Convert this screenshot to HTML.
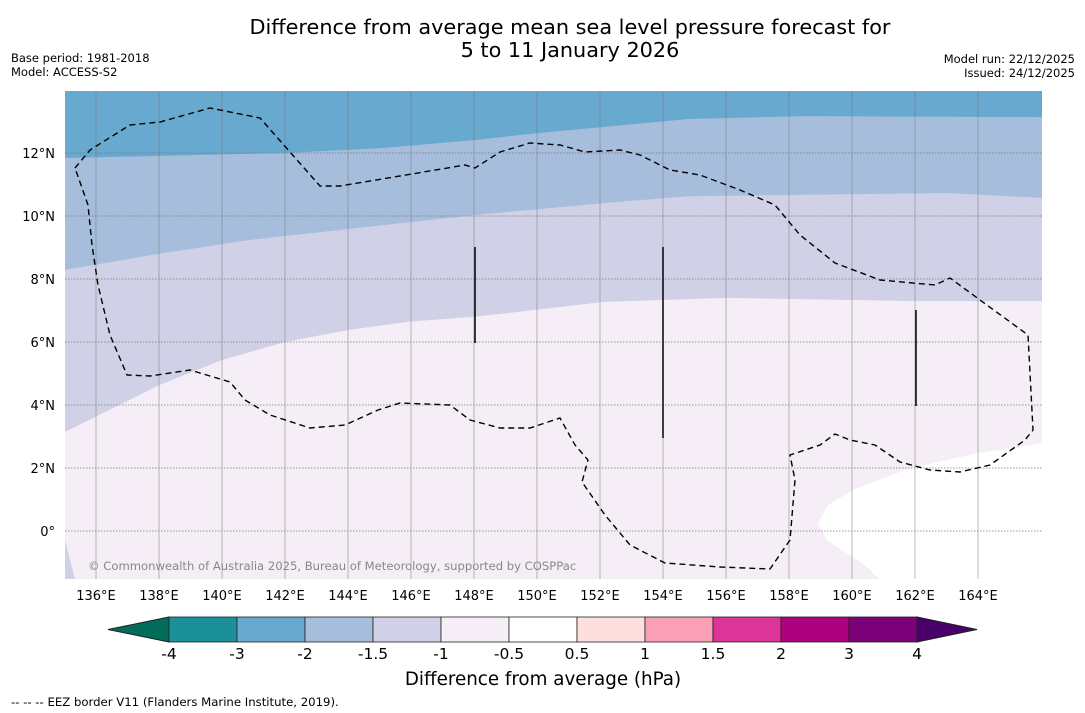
<!DOCTYPE html>
<html><head><meta charset="utf-8"><style>
body{margin:0;background:#fff;width:1085px;height:713px;overflow:hidden;font-family:"DejaVu Sans","Liberation Sans",sans-serif}
svg{display:block}
</style></head><body>
<svg id="chart" width="1085" height="713" xmlns="http://www.w3.org/2000/svg">
<text x="570" y="34" text-anchor="middle" font-size="20.8">Difference from average mean sea level pressure forecast for</text>
<text x="570" y="57" text-anchor="middle" font-size="20.8">5 to 11 January 2026</text>
<text x="11" y="62" font-size="11.5">Base period: 1981-2018</text>
<text x="11" y="76" font-size="11.5">Model: ACCESS-S2</text>
<text x="1075" y="63" text-anchor="end" font-size="11.5">Model run: 22/12/2025</text>
<text x="1075" y="77" text-anchor="end" font-size="11.5">Issued: 24/12/2025</text>
<g id="map"></g>
<g id="cbar"></g>
<text x="543" y="685" text-anchor="middle" font-size="18.3">Difference from average (hPa)</text>
<text x="11" y="706" font-size="11.7">--  --  -- EEZ border V11 (Flanders Marine Institute, 2019).</text>
</svg>
<script>
const lonTicks=[136,138,140,142,144,146,148,150,152,154,156,158,160,162,164];
const latTicks=[0,2,4,6,8,10,12];
const boundA=[[135,11.84],[142,12.0],[145,12.15],[148,12.41],[150,12.63],[154.8,13.08],[158.5,13.17],[166.1,13.14]];
const boundB=[[135,8.29],[138,8.8],[140.9,9.24],[148,10.03],[152.1,10.41],[154.8,10.63],[163,10.73],[166.1,10.57]];
const boundC=[[135,3.14],[138,4.63],[140,5.43],[142,6.0],[144,6.38],[146,6.65],[148,6.8],[149.1,6.92],[152.1,7.27],[156,7.4],[162,7.3],[166.1,7.3]];
const boundD=[[166.1,2.79],[164.06,2.48],[161.84,2.0],[160.03,1.3],[159.24,0.83],[158.92,0.25],[159.2,-0.29],[160.41,-1.08],[160.89,-1.55]];
const cbLevels=["-4","-3","-2","-1.5","-1","-0.5","0.5","1","1.5","2","3","4"];
const cbColors=["#1c9099","#67a9cf","#a6bddb","#d0d1e6","#f5eef6","#ffffff","#fde0dd","#fa9fb5","#dd3497","#ae017e","#7a0177"];
const x0=65,x1=1042,y0=91,y1=579;
const X=lon=>96+(lon-136)*31.5, Y=lat=>531-lat*31.5;
const NS='http://www.w3.org/2000/svg';
const map=document.getElementById('map');
function mk(tag,attrs,parent){const e=document.createElementNS(NS,tag);for(const k in attrs)e.setAttribute(k,attrs[k]);parent.appendChild(e);return e;}
const pts=a=>a.map(p=>X(p[0]).toFixed(1)+','+Y(p[1]).toFixed(1)).join(' ');
const defs=mk('defs',{},map);const cp=mk('clipPath',{id:'clip'},defs);mk('rect',{x:x0,y:y0,width:x1-x0,height:y1-y0},cp);
const g=mk('g',{'clip-path':'url(#clip)'},map);
let r=mk('rect',{x:x0,y:y0,width:x1-x0,height:y1-y0,fill:'#f5eef6'},g);


function band(b,color,name){const p=mk('polygon',{points:pts(b)+' '+X(166.5)+','+(y0-5)+' '+X(134.5)+','+(y0-5),fill:color},g);

}
band([[134.5,boundC[0][1]]].concat(boundC),'#d0d1e6','band-minus15-to-minus1');
band([[134.5,boundB[0][1]]].concat(boundB),'#a6bddb','band-minus2-to-minus15');
band([[134.5,boundA[0][1]]].concat(boundA),'#67a9cf','band-minus3-to-minus2');
let w=mk('polygon',{points:pts(boundD)+' '+X(166.5)+','+(y1+5),fill:'#ffffff'},g);


let t=mk('polygon',{points:'65,540 75,579 65,579',fill:'#d0d1e6'},g);


lonTicks.forEach(l=>{const ln=mk('line',{x1:X(l),x2:X(l),y1:y0,y2:y1,stroke:'#777',"stroke-width":0.5},g);


const tx=mk('text',{x:X(l),y:600,'text-anchor':'middle','font-size':13},map);tx.textContent=l+'°E';

});
latTicks.forEach(l=>{const ln=mk('line',{x1:x0,x2:x1,y1:Y(l),y2:Y(l),stroke:'#777',"stroke-width":0.8,"stroke-dasharray":'1.5,1.5'},g);


const tx=mk('text',{x:55,y:Y(l)+5,'text-anchor':'end','font-size':13},map);tx.textContent=(l===0?'0°':l+'°N');

});
const eez="75,168 90,150 130,125 160,122 210,108 260,118 320,186 340,186 400,176 465,165 475,168 500,152 530,143 560,145 585,152 620,150 640,155 670,170 700,175 740,190 775,205 800,235 835,263 880,280 935,285 950,278 980,300 1028,335 1033,430 1025,440 990,465 960,472 930,470 900,462 875,445 850,440 835,434 820,445 790,455 795,480 790,540 770,569 720,567 665,563 630,545 605,515 582,482 588,460 575,445 560,418 530,428 500,428 470,420 450,405 400,403 378,410 345,425 310,428 270,415 245,400 230,382 190,370 150,376 127,375 110,335 98,285 92,245 88,205 75,168";
let e=mk('polyline',{points:eez,fill:'none',stroke:'#000','stroke-width':1.4,'stroke-dasharray':'6,4'},g);


[[475,247,343],[663,247,438],[916,310,406]].forEach(v=>{const l=mk('line',{x1:v[0],x2:v[0],y1:v[1],y2:v[2],stroke:'#000','stroke-width':1.5},g);

});
const cr=mk('text',{x:88,y:570,'font-size':11.6,fill:'#888'},g);cr.textContent='© Commonwealth of Australia 2025, Bureau of Meteorology, supported by COSPPac';


const cb=document.getElementById('cbar');
const cx0=169,cw=68,cy=617,ch=25;
let la=mk('polygon',{points:`${cx0},${cy} ${cx0},${cy+ch} 108,${cy+ch/2}`,fill:'#016c59',stroke:'#222'},cb);


cbColors.forEach((c,i)=>{const rr=mk('rect',{x:cx0+i*cw,y:cy,width:cw,height:ch,fill:c,stroke:'#222','stroke-width':0.8},cb);

});
const xe=cx0+cbColors.length*cw;
let ra=mk('polygon',{points:`${xe},${cy} ${xe},${cy+ch} 977,${cy+ch/2}`,fill:'#49006a',stroke:'#222'},cb);


cbLevels.forEach((s,i)=>{const tx=mk('text',{x:cx0+i*cw,y:659,'text-anchor':'middle','font-size':15.5},cb);tx.textContent=s;

});
</script>
</body></html>
